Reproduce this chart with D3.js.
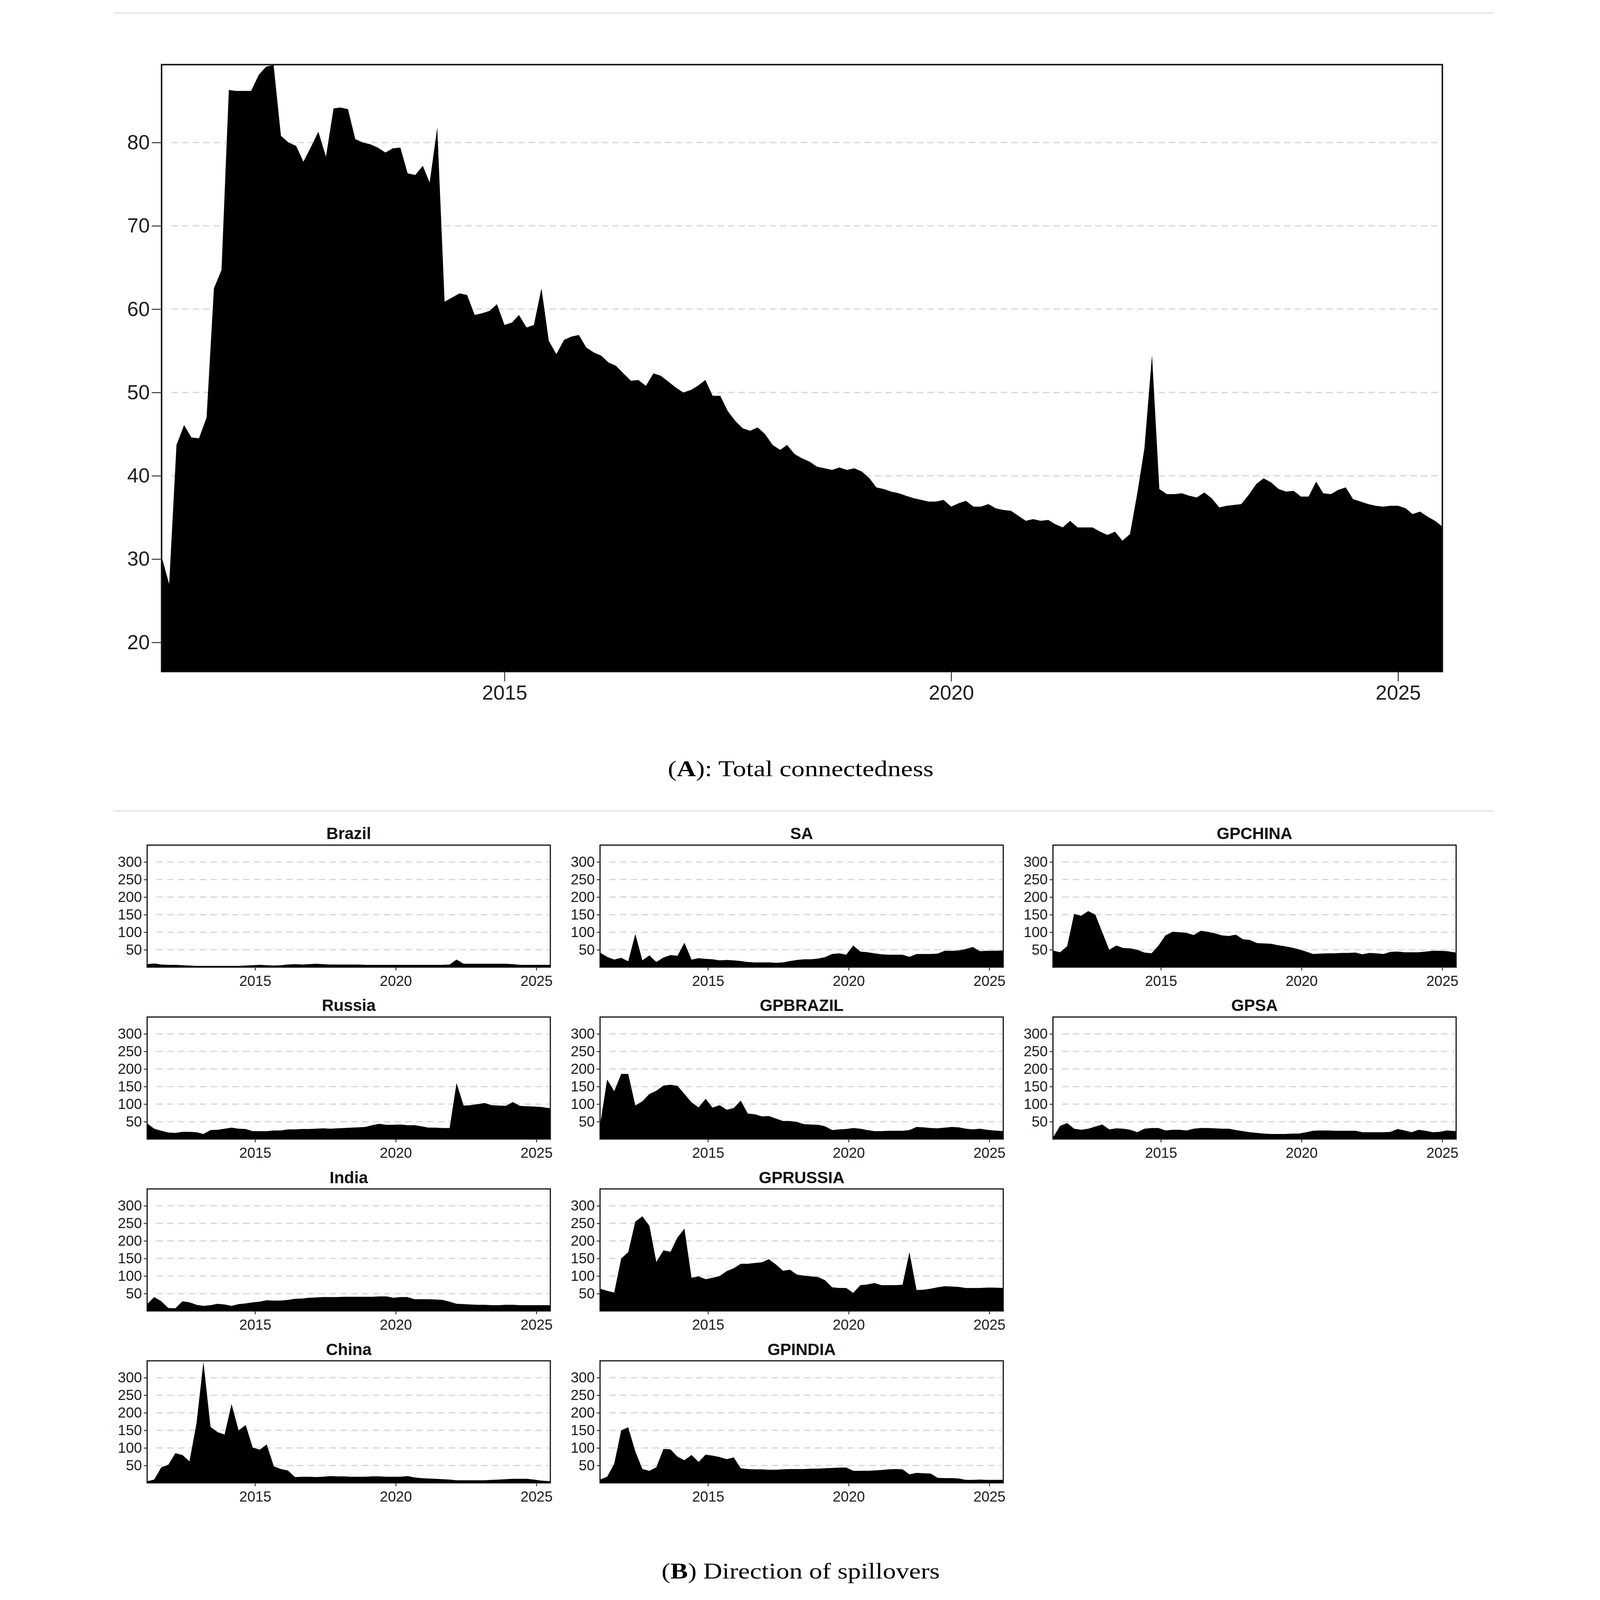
<!DOCTYPE html>
<html>
<head>
<meta charset="utf-8">
<script src="https://cdn.jsdelivr.net/npm/d3@7"></script>
<style>
  html, body { margin: 0; padding: 0; background: #fff; overflow: hidden; }
  svg { display: block; width: 100vw; height: 100vh; }
</style>
</head>
<body>
<div id="chart"></div>
<script>
// Total connectedness, monthly, March 2011 .. July 2025
const tcValues = [
  30.3, 27.0, 43.7, 46.1, 44.6, 44.5, 47.0, 62.5, 64.7, 86.3,
  86.2, 86.2, 86.2, 88.1, 89.1, 89.3, 80.8, 80.0, 79.6, 77.7,
  79.5, 81.3, 78.3, 84.1, 84.2, 84.0, 80.4, 80.0, 79.8, 79.4,
  78.8, 79.3, 79.4, 76.3, 76.1, 77.2, 75.2, 81.8, 60.9, 61.4,
  61.9, 61.7, 59.3, 59.5, 59.8, 60.6, 58.1, 58.4, 59.3, 57.8,
  58.1, 62.5, 56.2, 54.6, 56.3, 56.7, 56.9, 55.4, 54.8, 54.4,
  53.6, 53.2, 52.3, 51.4, 51.5, 50.8, 52.3, 52.0, 51.3, 50.6,
  50.0, 50.3, 50.8, 51.5, 49.6, 49.6, 47.8, 46.6, 45.7, 45.4,
  45.8, 45.0, 43.7, 43.1, 43.7, 42.6, 42.1, 41.7, 41.1, 40.9,
  40.7, 41.0, 40.7, 40.9, 40.5, 39.7, 38.6, 38.4, 38.1, 37.9,
  37.6, 37.3, 37.1, 36.9, 36.9, 37.1, 36.3, 36.7, 37.0, 36.3,
  36.3, 36.6, 36.1, 35.9, 35.8, 35.2, 34.6, 34.8, 34.6, 34.7,
  34.2, 33.8, 34.6, 33.8, 33.8, 33.8, 33.3, 32.9, 33.3, 32.2,
  33.0, 38.1, 43.3, 54.5, 38.4, 37.8, 37.8, 37.9, 37.6, 37.4,
  38.0, 37.3, 36.2, 36.4, 36.5, 36.6, 37.7, 39.0, 39.7, 39.2,
  38.4, 38.1, 38.2, 37.5, 37.5, 39.3, 37.9, 37.8, 38.3, 38.6,
  37.2, 36.9, 36.6, 36.4, 36.3, 36.4, 36.4, 36.1, 35.4, 35.7,
  35.1, 34.6, 33.9
];

// Net directional spillovers, read roughly every quarter
const brazil = [9, 11, 8, 7, 7, 6, 5, 4, 4, 4, 4, 4, 4, 4, 5, 6, 7, 6, 5, 6,
  8, 9, 8, 9, 10, 9, 8, 8, 8, 8, 8, 7, 7, 7, 7, 7, 7, 7, 7, 7,
  7, 7, 7, 8, 22, 10, 10, 10, 10, 10, 10, 10, 9, 7, 7, 7, 7, 7];
const sa = [42, 30, 22, 27, 17, 95, 20, 34, 15, 28, 35, 33, 70, 22, 26, 24, 23, 20, 21, 20,
  18, 15, 14, 14, 14, 13, 14, 18, 21, 23, 23, 25, 29, 38, 40, 36, 62, 45, 43, 40,
  37, 36, 36, 36, 30, 38, 38, 38, 39, 47, 47, 48, 52, 58, 46, 47, 47, 48];
const gpchina = [48, 43, 60, 152, 147, 160, 150, 100, 50, 62, 55, 54, 50, 42, 40, 62, 91, 101, 100, 98,
  92, 104, 101, 97, 91, 89, 93, 80, 78, 69, 68, 67, 63, 60, 56, 51, 45, 38, 39, 40,
  40, 41, 41, 42, 37, 41, 40, 38, 44, 45, 43, 43, 43, 45, 47, 47, 46, 42];
const russia = [45, 30, 24, 19, 18, 21, 21, 20, 15, 26, 27, 30, 33, 30, 29, 23, 23, 23, 25, 25,
  28, 28, 29, 29, 30, 31, 30, 31, 32, 33, 34, 35, 40, 44, 41, 41, 42, 40, 40, 37,
  33, 33, 32, 32, 160, 96, 97, 100, 103, 97, 96, 95, 106, 95, 94, 93, 92, 88];
const gpbrazil = [40, 170, 137, 186, 186, 96, 108, 129, 138, 153, 155, 152, 129, 105, 91, 115, 90, 97, 84, 89,
  110, 73, 71, 65, 66, 59, 52, 52, 49, 43, 42, 41, 37, 26, 28, 29, 32, 30, 26, 23,
  23, 24, 24, 24, 26, 35, 34, 32, 31, 33, 35, 34, 30, 28, 30, 27, 25, 23];
const gpsa = [5, 38, 46, 30, 27, 30, 36, 42, 28, 31, 30, 27, 20, 30, 32, 32, 25, 27, 27, 25,
  30, 32, 32, 31, 30, 30, 26, 23, 20, 18, 16, 15, 15, 15, 16, 16, 20, 24, 25, 25,
  24, 24, 24, 24, 20, 20, 20, 20, 21, 29, 25, 20, 27, 24, 20, 21, 25, 23];
const india = [20, 40, 28, 9, 8, 28, 25, 18, 15, 17, 21, 19, 15, 20, 22, 25, 27, 31, 30, 30,
  32, 35, 36, 38, 39, 40, 40, 40, 41, 41, 41, 41, 41, 42, 42, 38, 40, 40, 34, 34,
  34, 33, 32, 27, 21, 20, 19, 18, 18, 17, 17, 18, 18, 17, 17, 17, 17, 17];
const gprussia = [64, 58, 53, 150, 168, 255, 270, 243, 140, 173, 169, 210, 235, 95, 99, 91, 95, 100, 114, 122,
  135, 135, 137, 139, 148, 133, 115, 118, 104, 101, 99, 97, 88, 68, 66, 66, 52, 74, 76, 80,
  74, 74, 74, 75, 168, 60, 61, 64, 68, 71, 70, 69, 66, 66, 66, 67, 67, 66];
const china = [5, 10, 45, 52, 85, 80, 62, 170, 345, 160, 145, 138, 225, 150, 165, 101, 95, 110, 48, 40,
  36, 17, 18, 18, 17, 18, 20, 19, 19, 18, 18, 18, 19, 19, 18, 18, 18, 20, 16, 14,
  13, 12, 11, 10, 8, 8, 8, 8, 8, 9, 10, 11, 12, 12, 12, 10, 7, 5];
const gpindia = [10, 18, 55, 150, 159, 90, 40, 35, 45, 97, 96, 75, 65, 80, 60, 81, 78, 74, 68, 73,
  42, 40, 39, 39, 38, 38, 39, 40, 40, 40, 41, 41, 42, 43, 44, 44, 35, 35, 35, 36,
  37, 39, 40, 39, 25, 29, 28, 27, 15, 14, 14, 13, 9, 9, 10, 9, 9, 9];

const panelNames = ["Brazil", "SA", "GPCHINA", "Russia", "GPBRAZIL", "GPSA", "India", "GPRUSSIA", "China", "GPINDIA"];
const panelSeries = [brazil, sa, gpchina, russia, gpbrazil, gpsa, india, gprussia, china, gpindia];
const panelCol = [0, 1, 2, 0, 1, 2, 0, 1, 0, 1];
const panelRow = [0, 0, 0, 1, 1, 1, 2, 2, 3, 3];

const yearTicks = [2015, 2020, 2025];
const tcTicks = [20, 30, 40, 50, 60, 70, 80];
const spillTicks = [50, 100, 150, 200, 250, 300];

// month 0 = March 2011
const monthDate = (m) => new Date(2011, 2 + m, 1);
const monthlyIdx = d3.range(tcValues.length);
const quarterIdx = d3.range(0, 169, 3).concat([172]);

const sans = "'Liberation Sans', Arial, Helvetica, sans-serif";
const serif = "'Liberation Serif', 'Times New Roman', serif";

const W = 4304, H = 4877;
// the drawing keeps its 4304x4877 layout and is fitted into the window
const svg = d3.select("#chart").append("svg")
  .attr("viewBox", `0 0 ${W} ${H}`)
  .attr("preserveAspectRatio", "xMidYMin meet");

// thin separators above each figure part
[40, 2472].forEach((yy) => {
  svg.append("line")
    .attr("x1", 60).attr("x2", 4266).attr("y1", yy).attr("y2", yy)
    .attr("stroke", "#e2e2e2").attr("stroke-width", 4);
});

function styleAxis(g, size) {
  g.select(".domain").remove();
  g.selectAll(".tick line").attr("stroke", "#333").attr("stroke-width", 3);
  g.selectAll(".tick text")
    .attr("fill", "#1e1e1e")
    .style("font-family", sans)
    .style("font-size", size + "px");
}

function drawPanel(g, box, dates, values, yDomain, yTicks, opt) {
  const x = d3.scaleTime()
    .domain([monthDate(0), monthDate(172)])
    .range([box.left, box.right]);
  const y = d3.scaleLinear().domain(yDomain).range([box.bottom, box.top]);

  // dashed grid behind the area
  g.append("g").selectAll("line")
    .data(yTicks)
    .enter()
    .append("line")
    .attr("x1", box.left + opt.gridInset).attr("x2", box.right - 4)
    .attr("y1", (d) => y(d)).attr("y2", (d) => y(d))
    .attr("stroke", "#dadada")
    .attr("stroke-width", opt.gridWidth)
    .attr("stroke-dasharray", opt.dash);

  const pts = dates.map((m, i) => ({ date: monthDate(m), v: values[i] }));
  const area = d3.area()
    .x((d) => x(d.date))
    .y0(box.bottom)
    .y1((d) => y(d.v));
  g.append("path").datum(pts).attr("d", area).attr("fill", "#000");

  g.append("rect")
    .attr("x", box.left).attr("y", box.top)
    .attr("width", box.right - box.left).attr("height", box.bottom - box.top)
    .attr("fill", "none").attr("stroke", "#111").attr("stroke-width", opt.border);

  const ax = g.append("g")
    .attr("transform", `translate(${box.left},0)`)
    .call(d3.axisLeft(y).tickValues(yTicks).tickSize(opt.tick).tickPadding(opt.padY));
  styleAxis(ax, opt.font);

  const bx = g.append("g")
    .attr("transform", `translate(0,${box.bottom})`)
    .call(d3.axisBottom(x)
      .tickValues(yearTicks.map((yr) => new Date(yr, 0, 1)))
      .tickFormat(d3.timeFormat("%Y"))
      .tickSize(opt.tick)
      .tickPadding(opt.padX));
  styleAxis(bx, opt.font);
}

// (A) total connectedness
const boxA = { left: 206, right: 4110, top: 197, bottom: 2047 };
drawPanel(svg.append("g"), boxA, monthlyIdx, tcValues, [16.5, 89.35], tcTicks,
  { gridInset: 30, gridWidth: 4, dash: "20,12", border: 4.5, tick: 30, padY: 6, padX: 12, font: 62 });

// (B) small multiples
panelNames.forEach((name, i) => {
  const left = 162 + panelCol[i] * 1380.5;
  const top = 2576 + panelRow[i] * 524;
  const box = { left: left, right: left + 1229, top: top, bottom: top + 372 };
  const g = svg.append("g");
  drawPanel(g, box, quarterIdx, panelSeries[i], [0.5, 348], spillTicks,
    { gridInset: 28, gridWidth: 4, dash: "20,13", border: 3.5, tick: 10, padY: 6, padX: 16, font: 44 });
  g.append("text")
    .attr("x", (box.left + box.right) / 2)
    .attr("y", box.top - 18)
    .attr("text-anchor", "middle")
    .style("font-family", sans)
    .style("font-weight", "bold")
    .style("font-size", "50px")
    .attr("fill", "#111")
    .text(name);
});

// captions
function caption(yy, letter, rest, len) {
  const t = svg.append("text")
    .attr("x", 2154).attr("y", yy)
    .attr("text-anchor", "middle")
    .attr("textLength", len)
    .attr("lengthAdjust", "spacingAndGlyphs")
    .style("font-family", serif)
    .style("font-size", "69px")
    .attr("fill", "#000");
  t.append("tspan").text("(");
  t.append("tspan").style("font-weight", "bold").text(letter);
  t.append("tspan").text(rest);
}
caption(2366, "A", "): Total connectedness", 810);
caption(4812, "B", ") Direction of spillovers", 848);
</script>
</body>
</html>
